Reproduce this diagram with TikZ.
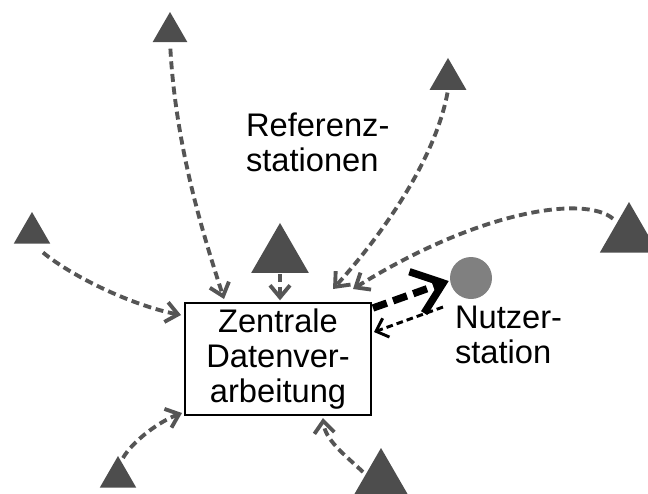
\documentclass[tikz,border=0pt]{standalone}
\usepackage{fontspec}
\setmainfont{Liberation Sans}
\usetikzlibrary{arrows.meta,shapes.geometric,calc}
\definecolor{trifill}{HTML}{4D4D4D}
\definecolor{lnk}{HTML}{555555}
\definecolor{usr}{HTML}{808080}
\begin{document}
\begin{tikzpicture}[x=0.75pt,y=-0.75pt,
  tri/.style={regular polygon, regular polygon sides=3, fill=trifill, draw=none, inner sep=0pt, outer sep=0pt},
  lbl/.style={font=\fontsize{24.5pt}{26.5pt}\selectfont, inner sep=0pt, outer sep=0pt},
  link/.style={draw=lnk, line width=2.9pt, dash pattern=on 6pt off 3.5pt, -{Straight Barb[length=9pt,width=15pt]}},
  thicklink/.style={draw=black, line width=5.5pt, dash pattern=on 11pt off 5pt, -{Straight Barb[length=21pt,width=33pt]}},
  thinlink/.style={draw=black, line width=2.2pt, dash pattern=on 5pt off 3pt, -{Straight Barb[length=8pt,width=15pt]}}]
\useasboundingbox (0,0) rectangle (648,493);
\clip (0,0) rectangle (648,493);
% stations
\node[tri, minimum size=30pt] (t1) at (170,32) {};
\node[tri, minimum size=32pt] (t2) at (448,79.3) {};
\node[tri, minimum size=31.5pt] (t3) at (32,233) {};
\node[tri, minimum size=50pt] (t4) at (280,256.3) {};
\node[tri, minimum size=50.5pt] (t5) at (629,235.7) {};
\node[tri, minimum size=31.5pt] (t6) at (118,477) {};
\node[tri, minimum size=45.75pt] (t7) at (381,478.5) {};
% user station
\node[circle, fill=usr, draw=none, minimum size=31.5pt, inner sep=0pt] (c) at (471,278) {};
% central box
\node[draw=black, line width=1.1pt, minimum width=139.5pt, minimum height=84pt, align=center, lbl] (box) at (278,359) {Zentrale\\Datenver-\\arbeitung};
% labels
\node[lbl, align=left, anchor=north west] (ref) at (246,113) {Referenz-\\stationen};
\node[lbl, align=left, anchor=north west] (nut) at (455,306) {Nutzer-\\station};
% free ends
\coordinate (e1) at ($(box.north west)+(39,-4)$);
\coordinate (e3) at ($(box.north west)+(148,-14)$);
\coordinate (e4) at ($(box.north west)+(168,-14)$);
\coordinate (e5) at ($(box.north west)+(-4,12)$);
\coordinate (e6) at ($(box.south west)+(-3,-2)$);
\coordinate (e7) at ($(box.south)+(45,3)$);
\coordinate (s3) at ($(t3.south)+(11,9)$);
\coordinate (s5) at ($(t5.center)+(-16,-17)$);
\coordinate (s6) at ($(t6.north)+(5,2)$);
\coordinate (s7) at ($(t7.north)+(-18,24)$);
\coordinate (sb) at ($(box.north east)+(2,5)$);
\coordinate (eb) at ($(c.west)+(-1,3)$);
\coordinate (sc) at ($(c.south west)+(-13,14)$);
\coordinate (ec) at ($(box.north east)+(3,29)$);
% connectors
\draw[link, shorten <=5pt] (t1.south) .. controls (176,150) and (205,240) .. (e1);
\draw[link, shorten <=1pt, shorten >=2pt] (t4.south) -- (t4.south |- box.north);
\draw[link, shorten <=2pt] (t2.south) .. controls (435,160) and (382,235) .. (e3);
\draw[link] (s5) .. controls (585,195) and (480,210) .. (e4);
\draw[link] (s3) .. controls (70,275) and (130,305) .. (e5);
\draw[link] (s6) .. controls (132,442) and (158,422) .. (e6);
\draw[link] (s7) .. controls (345,455) and (325,440) .. (e7);
\draw[thicklink] (sb) -- (eb);
\draw[thinlink] (sc) -- (ec);
\end{tikzpicture}
\end{document}
